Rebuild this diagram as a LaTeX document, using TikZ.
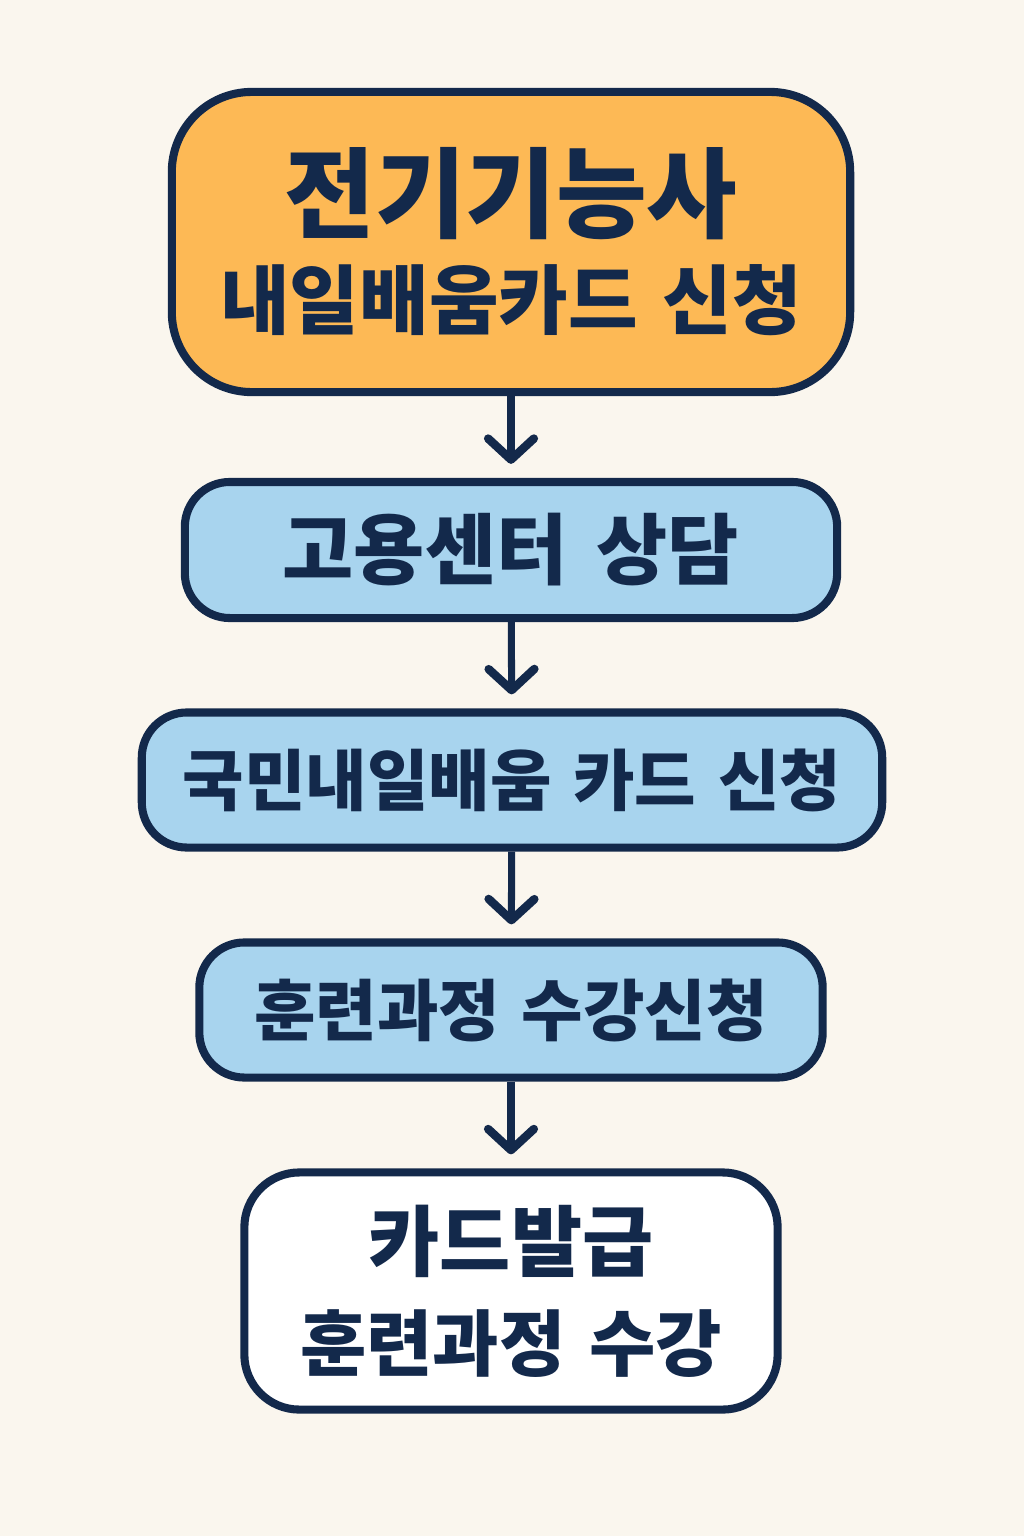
\documentclass[tikz,border=0pt]{standalone}
\usepackage{fontspec}
\newfontfamily\cjk{Noto Sans CJK KR}
\usetikzlibrary{arrows.meta, positioning}
\definecolor{navy}{HTML}{13294B}
\definecolor{paper}{HTML}{FAF6EE}
\definecolor{orangefill}{HTML}{FDB955}
\definecolor{bluefill}{HTML}{A8D4EE}

\begin{document}
\begin{tikzpicture}[x=0.01cm, y=-0.01cm,
    stepbox/.style={draw=navy, line width=2.3pt, text=navy, align=center,
      font=\cjk\bfseries, inner sep=0pt},
    flow/.style={draw=navy, line width=2pt, shorten >=4pt,
      -{Straight Barb[length=6pt, width=13pt, line width=2.4pt, line cap=round, round]}}]
  \fill[paper] (0,0) rectangle (1024,1536);

  \begin{scope}[every node/.style={stepbox}]
    \node[fill=orangefill, rounded corners=0.8cm, minimum width=6.78cm, minimum height=3cm]
      (apply) at (511,242)
      {{\fontsize{28}{30}\selectfont 전기기능사}\\[6pt]{\fontsize{21.5}{26}\selectfont 내일배움카드\hspace{0.1em} 신청}};
    \node[fill=bluefill, rounded corners=0.45cm, minimum width=6.52cm, minimum height=1.36cm]
      (consult) at (511,550) {\fontsize{22}{24}\selectfont 고용센터\hspace{0.15em} 상담};
    \node[fill=bluefill, rounded corners=0.45cm, minimum width=7.4cm, minimum height=1.35cm]
      (card) at (512,780) {\fontsize{19}{22}\selectfont 국민내일배움\hspace{0.1em} 카드\hspace{0.1em} 신청};
    \node[fill=bluefill, rounded corners=0.45cm, minimum width=6.23cm, minimum height=1.35cm]
      (course) at (511,1010) {\fontsize{19}{22}\selectfont 훈련과정\hspace{0.1em} 수강신청};
    \node[fill=white, rounded corners=0.55cm, minimum width=5.33cm, minimum height=2.37cm]
      (issue) at (511,1291)
      {{\fontsize{22}{24}\selectfont 카드발급}\\[8pt]{\fontsize{20.5}{24}\selectfont 훈련과정\hspace{0.1em} 수강}};
  \end{scope}

  \begin{scope}[every edge/.style={flow}]
    \path (apply) edge (consult);
    \path (consult) edge (card);
    \path (card) edge (course);
    \path (course) edge (issue);
  \end{scope}
\end{tikzpicture}
\end{document}
